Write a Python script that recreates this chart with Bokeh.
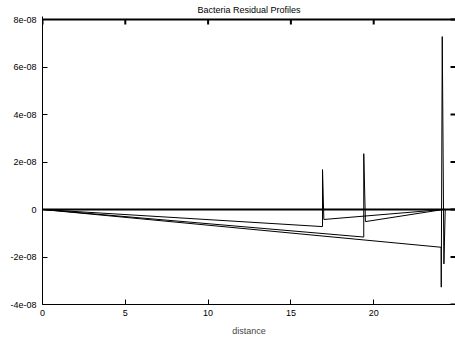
from bokeh.plotting import figure
from bokeh.models import LinearAxis, Range1d, FixedTicker
from bokeh.embed import file_html
from bokeh.resources import INLINE

# Residual profiles along distance (residuals in absolute units)
zero_x = [0.0, 25.0]
zero_y = [0.0, 0.0]

profile_a_x = [0.0, 16.91, 16.91, 16.99, 24.20, 25.0]
profile_a_y = [0.0, -0.72e-8, 1.68e-8, -0.42e-8, 0.0, 0.0]

profile_b_x = [0.0, 19.40, 19.40, 19.50, 24.20, 25.0]
profile_b_y = [0.0, -1.16e-8, 2.35e-8, -0.51e-8, 0.0, 0.0]

profile_c_x = [0.0, 24.07, 24.08, 24.14, 24.24, 24.32, 25.0]
profile_c_y = [0.0, -1.59e-8, -3.27e-8, 7.28e-8, -2.29e-8, 0.0, 0.0]

x_ticks = [0, 5, 10, 15, 20, 25]
y_ticks = [-4e-8, -2e-8, 0, 2e-8, 4e-8, 6e-8, 8e-8]
y_labels = {-4e-8: "-4e-08", -2e-8: "-2e-08", 0: "0", 2e-8: "2e-08",
            4e-8: "4e-08", 6e-8: "6e-08", 8e-8: "8e-08"}

FONT = "Liberation Sans"
FS = "9px"
W, H = 455, 339
LEFT, TOP, BOTTOM = 42, 16, 35
X0, X1 = 0.0, 24.94
Y_MIN, Y_MAX = -4e-8, 8e-8
TICK = 5  # tick length in pixels

# leave a few pixels above the top border so it is not clipped by the frame
plot_h = H - TOP - BOTTOM
plot_w = W - LEFT
Y0 = Y_MIN
Y1 = Y_MAX + 3 * (Y_MAX - Y_MIN) / (plot_h - 3)

p = figure(width=W, height=H, output_backend="svg", toolbar_location=None,
           x_range=Range1d(X0, X1), y_range=Range1d(Y0, Y1),
           x_axis_location=None, y_axis_location=None,
           min_border_left=LEFT, min_border_right=0, min_border_top=TOP,
           min_border_bottom=BOTTOM)
p.outline_line_color = None
p.xgrid.visible = False
p.ygrid.visible = False
p.background_fill_color = "white"
p.border_fill_color = "white"

p.title.text = "Bacteria Residual Profiles"
p.title.align = "center"
p.title.text_font = FONT
p.title.text_font_size = FS
p.title.text_font_style = "normal"
p.title.text_color = "black"
p.title.standoff = 4


def style_axis(ax):
    ax.axis_line_color = "black"
    ax.major_tick_line_color = "black"
    ax.major_tick_in = TICK
    ax.major_tick_out = 0
    ax.minor_tick_line_color = None
    ax.major_label_text_font = FONT
    ax.major_label_text_font_size = FS
    ax.major_label_text_color = "black"


bottom = LinearAxis(ticker=FixedTicker(ticks=x_ticks), axis_label="distance")
style_axis(bottom)
bottom.major_label_standoff = 5
bottom.axis_label_text_font = FONT
bottom.axis_label_text_font_size = FS
bottom.axis_label_text_font_style = "normal"
bottom.axis_label_standoff = 7
p.add_layout(bottom, "below")

left = LinearAxis(ticker=FixedTicker(ticks=y_ticks))
left.major_label_overrides = y_labels
style_axis(left)
left.major_label_standoff = 6
p.add_layout(left, "left")

# mirrored ticks on the top and right edges, then the top border
px_x = (X1 - X0) / plot_w
px_y = (Y1 - Y0) / plot_h
dx = TICK * px_x
dy = TICK * px_y
p.segment(x0=x_ticks, y0=[Y_MAX] * len(x_ticks), x1=x_ticks,
          y1=[Y_MAX - dy] * len(x_ticks), line_color="black", line_width=2)
p.segment(x0=[X1] * len(y_ticks), y0=y_ticks, x1=[X1 - dx] * len(y_ticks), y1=y_ticks,
          line_color="black", line_width=2)
p.segment(x0=[X0], y0=[Y_MAX], x1=[X1], y1=[Y_MAX],
          line_color="black", line_width=2)

p.line(zero_x, zero_y, line_color="black", line_width=2)
for xs, ys in [(profile_a_x, profile_a_y), (profile_b_x, profile_b_y),
               (profile_c_x, profile_c_y)]:
    p.line(xs, ys, line_color="black", line_width=1)

open("out.html", "w").write(file_html(p, INLINE))
